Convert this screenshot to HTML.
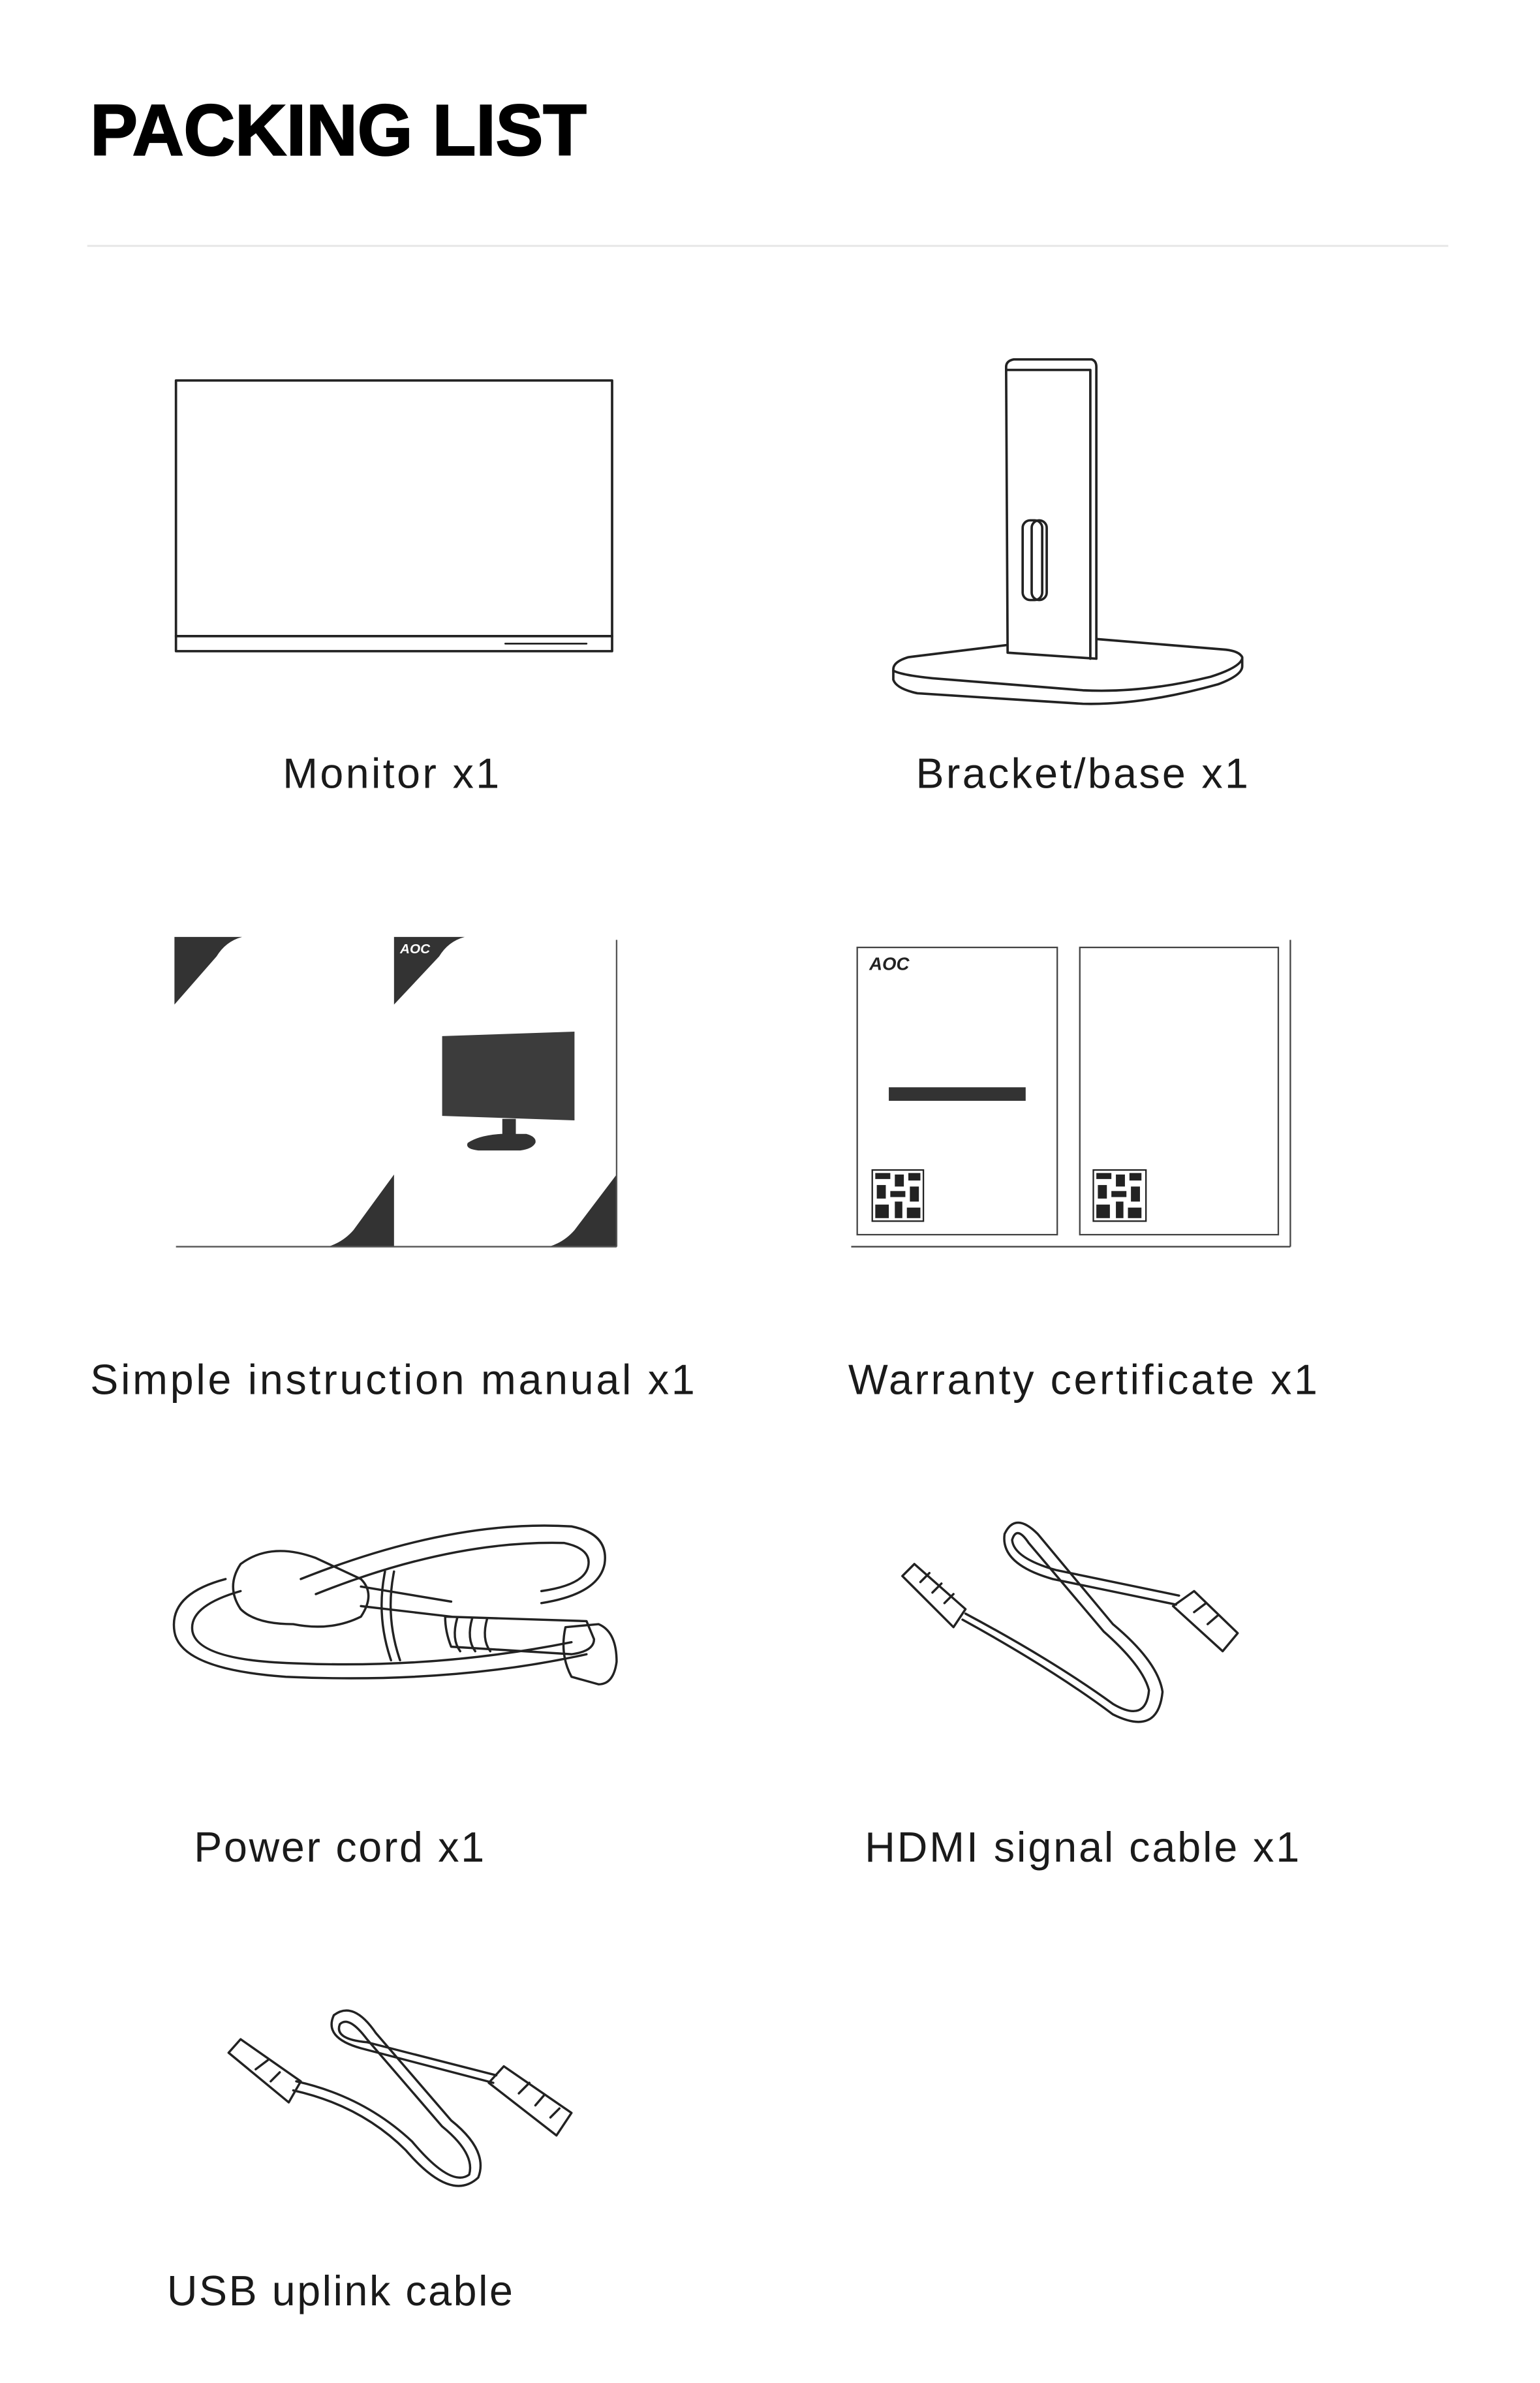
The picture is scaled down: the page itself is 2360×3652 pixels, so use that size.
<!DOCTYPE html>
<html><head><meta charset="utf-8"><style>
html,body{margin:0;padding:0;background:#fff;}
svg{display:block;}
</style></head><body>
<svg width="2360" height="3652" viewBox="0 0 1024 1584.6" xmlns="http://www.w3.org/2000/svg">
<rect width="1024" height="1584.6" fill="#fff"/>
<text x="60" y="103" font-family="Liberation Sans, sans-serif" font-weight="bold" font-size="48" textLength="330" lengthAdjust="spacingAndGlyphs" fill="#000" stroke="#000" stroke-width="1">PACKING LIST</text>
<line x1="58" y1="163.5" x2="963" y2="163.5" stroke="#e6e6e6" stroke-width="1.2"/>

<g fill="none" stroke="#222" stroke-width="1.6" stroke-linejoin="round" stroke-linecap="round">
<rect x="117" y="253" width="290" height="180"/>
<line x1="117" y1="423" x2="407" y2="423"/>
<line x1="336" y1="428" x2="390" y2="428" stroke-width="1.2"/>
<path d="M669,244 Q669,240 674,239 L726,239 Q729,240 729,244 L729,438 L670,434 Z"/>
<path d="M670,246 L725,246 L725,438"/>
<rect x="680" y="346" width="13" height="53" rx="5"/>
<rect x="686" y="346" width="10" height="53" rx="5"/>
<path d="M669,429 L604,437 Q594,440 594,445 L594,452 Q596,458 610,461 L720,468 Q760,469 810,455 Q826,449 826,443 L826,437 Q824,433 815,432 L730,425"/>
<path d="M594,446 Q600,449 620,451 L720,459 Q760,461 805,450 Q824,444 826,438"/>
</g>

<g fill="#333">
<path d="M116,623 L161,623 Q150,626 144,636 L116,668 Z"/>
<path d="M262,623 L309,623 Q298,626 292,636 L262,668 Z"/>
<path d="M262,781 L262,829 L218,829 Q228,826 235,818 Z"/>
<path d="M410,781 L410,829 L365,829 Q375,826 382,818 Z"/>
<path d="M294,689 L382,686 L382,745 L294,742 Z" fill="#3c3c3c"/>
<rect x="334" y="744" width="9" height="13"/>
<path d="M311,760 Q318,755 333,754 L350,754 Q357,756 356,760 Q354,764 346,765 L318,765 Q309,764 311,760 Z"/>
</g>
<text x="266" y="634" font-family="Liberation Sans, sans-serif" font-weight="bold" font-style="italic" font-size="9" fill="#fff">AOC</text>
<g stroke="#555" stroke-width="1" fill="none">
<line x1="410" y1="625" x2="410" y2="829"/>
<line x1="117" y1="829" x2="410" y2="829"/>
</g>

<g fill="none" stroke="#444" stroke-width="1">
<rect x="570" y="630" width="133" height="191"/>
<rect x="718" y="630" width="132" height="191"/>
<line x1="858" y1="625" x2="858" y2="829"/>
<line x1="566" y1="829" x2="858" y2="829"/>
</g>
<text x="578" y="645" font-family="Liberation Sans, sans-serif" font-weight="bold" font-style="italic" font-size="12" fill="#222">AOC</text>
<rect x="591" y="723" width="91" height="9" fill="#333"/>
<g fill="#222">
<rect x="580" y="778" width="34" height="34" fill="#fff" stroke="#222" stroke-width="1"/>
<rect x="582" y="780" width="10" height="4"/><rect x="595" y="781" width="6" height="8"/><rect x="604" y="780" width="8" height="5"/>
<rect x="583" y="788" width="6" height="9"/><rect x="592" y="792" width="10" height="4"/><rect x="605" y="789" width="6" height="10"/>
<rect x="582" y="801" width="9" height="9"/><rect x="595" y="799" width="5" height="11"/><rect x="603" y="803" width="9" height="7"/>
<rect x="727" y="778" width="35" height="34" fill="#fff" stroke="#222" stroke-width="1"/>
<rect x="729" y="780" width="10" height="4"/><rect x="742" y="781" width="6" height="8"/><rect x="751" y="780" width="8" height="5"/>
<rect x="730" y="788" width="6" height="9"/><rect x="739" y="792" width="10" height="4"/><rect x="752" y="789" width="6" height="10"/>
<rect x="729" y="801" width="9" height="9"/><rect x="742" y="799" width="5" height="11"/><rect x="750" y="803" width="9" height="7"/>
</g>

<g fill="none" stroke="#222" stroke-width="1.5" stroke-linejoin="round" stroke-linecap="round">
<path d="M150,1050 Q112,1060 116,1085 Q120,1110 190,1115 Q300,1120 390,1100"/>
<path d="M160,1058 Q125,1068 128,1085 Q132,1104 195,1106 Q290,1110 380,1092"/>
<path d="M200,1050 Q300,1010 380,1015 Q405,1020 402,1040 Q398,1060 360,1066"/>
<path d="M210,1060 Q300,1024 375,1026 Q394,1030 391,1042 Q388,1054 360,1058"/>
<path d="M160,1040 Q180,1025 210,1036 L240,1050 Q250,1060 240,1075 Q220,1085 195,1080 Q170,1080 160,1070 Q150,1055 160,1040 Z"/>
<path d="M240,1055 L300,1065 M240,1068 L300,1075"/>
<path d="M296,1075 Q296,1085 300,1095 L380,1100 Q395,1098 395,1090 L390,1078 Z"/>
<path d="M376,1082 L398,1080 Q410,1085 410,1105 Q408,1120 398,1120 L380,1115 Q372,1100 376,1082 Z"/>
<path d="M256,1045 Q250,1075 260,1104 M262,1045 Q256,1075 266,1104"/>
<path d="M304,1076 Q300,1090 306,1098 M314,1076 Q310,1090 316,1098 M324,1076 Q320,1090 326,1098"/>
<path d="M640,1077 Q700,1110 740,1140 Q770,1155 773,1125 Q770,1105 740,1080 L690,1020 Q675,1005 668,1020 Q665,1040 700,1050 L782,1067"/>
<path d="M642,1073 Q700,1104 740,1133 Q762,1146 764,1124 Q760,1108 734,1085 L684,1026 Q676,1014 673,1024 Q674,1036 702,1044 L784,1061"/>
<path d="M600,1048 L608,1040 L642,1070 L634,1082 Z"/>
<path d="M612,1052 L618,1046 M620,1059 L626,1053 M628,1066 L634,1060"/>
<path d="M780,1068 L794,1058 L823,1086 L813,1098 Z"/>
<path d="M794,1072 L802,1066 M803,1080 L810,1074"/>
<path d="M195,1390 Q240,1400 270,1430 Q300,1465 318,1448 Q325,1430 300,1410 L250,1352 Q235,1330 222,1340 Q215,1355 240,1362 L328,1385"/>
<path d="M197,1384 Q242,1394 274,1424 Q300,1455 312,1446 Q316,1432 294,1414 L244,1356 Q232,1340 226,1346 Q222,1356 244,1358 L330,1380"/>
<path d="M152,1365 L160,1356 L200,1384 L192,1398 Z"/>
<path d="M170,1376 L178,1370 M180,1384 L186,1378"/>
<path d="M325,1385 L335,1374 L380,1405 L370,1420 Z"/>
<path d="M345,1392 L352,1385 M356,1400 L362,1393 M366,1408 L372,1402"/>
</g>

<g font-family="Liberation Sans, sans-serif" font-size="28" fill="#1a1a1a" lengthAdjust="spacingAndGlyphs">
<text x="188" y="524" textLength="144">Monitor x1</text>
<text x="609" y="524" textLength="221">Bracket/base x1</text>
<text x="60" y="927" textLength="402">Simple instruction manual x1</text>
<text x="564" y="927" textLength="312">Warranty certificate x1</text>
<text x="129" y="1238" textLength="193">Power cord x1</text>
<text x="575" y="1238" textLength="289">HDMI signal cable x1</text>
<text x="111" y="1533" textLength="230">USB uplink cable</text>
</g>
</svg>
</body></html>
